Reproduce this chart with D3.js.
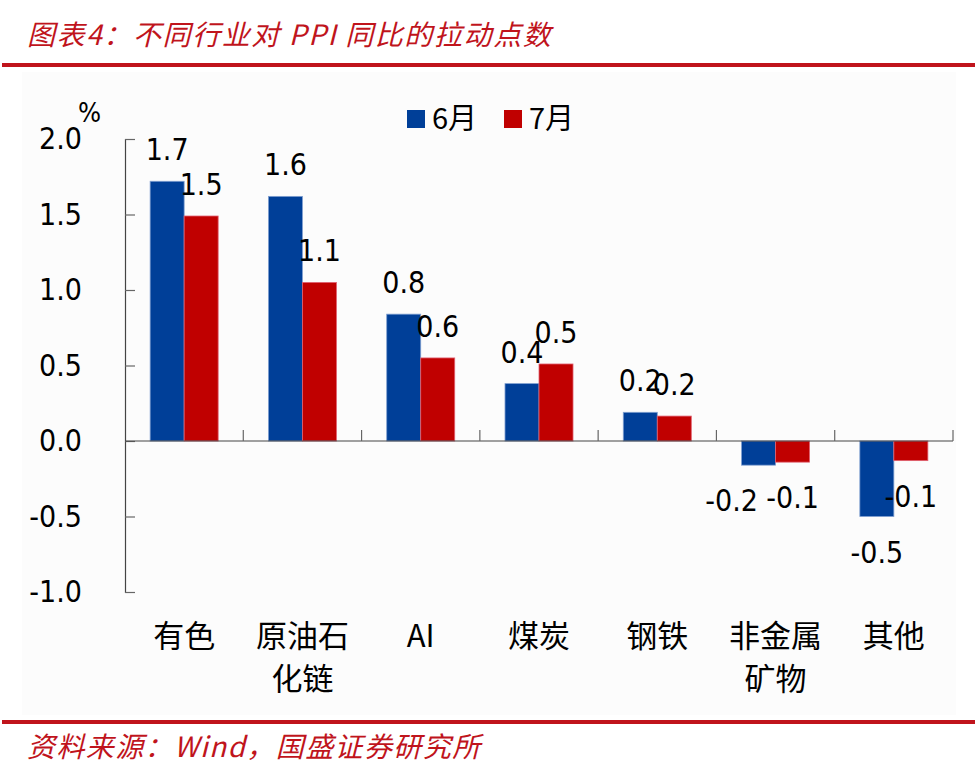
<!DOCTYPE html>
<html>
<head>
<meta charset="utf-8">
<script src="https://cdn.jsdelivr.net/npm/d3@7"></script>
<style>
  body { margin: 0; background: #fff; }
  svg { display: block; }
</style>
</head>
<body>
<svg id="chart" width="975" height="774"></svg>
<script>
// categories, two lines where the label wraps
const categories = ['有色', '原油石化链', 'AI', '煤炭', '钢铁', '非金属矿物', '其他'];
const categoryLines = [['有色'], ['原油石', '化链'], ['AI'], ['煤炭'], ['钢铁'], ['非金属', '矿物'], ['其他']];
const seriesNames = ['6月', '7月'];
const june = [1.72, 1.62, 0.84, 0.38, 0.19, -0.16, -0.50];
const july = [1.49, 1.05, 0.55, 0.51, 0.165, -0.14, -0.13];
const yTicks = [-1.0, -0.5, 0.0, 0.5, 1.0, 1.5, 2.0];

const colors = {'6月': '#003f98', '7月': '#c00000'};
const strokes = {'6月': '#7f9fd0', '7月': '#e06070'};
const red = '#c0141c';
const numFont = '"DejaVu Sans Condensed", "DejaVu Sans", sans-serif';
const cjkFont = '"Noto Sans CJK SC", sans-serif';

// plain hyphen for negatives, like the original
const fmt = d3.formatLocale({decimal: '.', thousands: ',', grouping: [3], currency: ['', ''], minus: '-'}).format('.1f');

const svg = d3.select('#chart');

// header + footer
svg.append('text')
    .attr('x', 27)
    .attr('y', 45)
    .attr('fill', red)
    .style('font-family', cjkFont)
    .style('font-style', 'italic')
    .style('font-size', '28px')
    .style('letter-spacing', '1.6px')
    .text('图表4：不同行业对 PPI 同比的拉动点数');
svg.append('rect')
    .attr('x', 2).attr('y', 63)
    .attr('width', 973).attr('height', 4)
    .attr('fill', red);
svg.append('rect') // faint chart panel
    .attr('x', 22).attr('y', 72)
    .attr('width', 934).attr('height', 643)
    .attr('fill', '#fcfcfc');
svg.append('rect')
    .attr('x', 2).attr('y', 720)
    .attr('width', 973).attr('height', 4)
    .attr('fill', red);
svg.append('text')
    .attr('x', 27)
    .attr('y', 757)
    .attr('fill', red)
    .style('font-family', cjkFont)
    .style('font-style', 'italic')
    .style('font-size', '28px')
    .style('letter-spacing', '1.4px')
    .text('资料来源：Wind，国盛证券研究所');

// scales
const y = d3.scaleLinear().domain([-1, 2]).range([592, 139]);
const x = d3.scaleBand()
    .domain(categories)
    .range([125, 953])
    .paddingInner(0.425)
    .paddingOuter(0.2125);
const xs = d3.scaleBand().domain(seriesNames).range([0, x.bandwidth()]);

// y axis, ticks pointing into the plot
const yAxis = d3.axisLeft(y)
    .tickValues(yTicks)
    .tickSizeInner(-10)
    .tickSizeOuter(-10)
    .tickPadding(43)
    .tickFormat(fmt);
const gy = svg.append('g')
    .attr('transform', `translate(${x.range()[0]},0)`)
    .call(yAxis);
gy.selectAll('path, line').attr('stroke', '#666').attr('stroke-width', 1.2);
gy.selectAll('text')
    .attr('fill', '#000')
    .style('font-family', numFont)
    .style('font-size', '30px');
gy.select('.domain').attr('stroke', '#444');

svg.append('text')
    .attr('x', 78)
    .attr('y', 122)
    .style('font-family', numFont)
    .style('font-size', '27px')
    .text('%');

// bars
const rows = categories.map((c, i) => ({cat: c, values: [june[i], july[i]]}));
const groups = svg.append('g').selectAll('g')
    .data(rows)
    .join('g')
    .attr('transform', (d) => `translate(${x(d.cat)},0)`);

groups.selectAll('rect')
    .data((d) => seriesNames.map((s, j) => ({cat: d.cat, key: s, value: d.values[j]})))
    .join('rect')
    .attr('x', (d) => xs(d.key))
    .attr('y', (d) => y(Math.max(0, d.value)))
    .attr('width', xs.bandwidth())
    .attr('height', (d) => Math.abs(y(d.value) - y(0)))
    .attr('fill', (d) => colors[d.key])
    .attr('stroke', (d) => strokes[d.key])
    .attr('stroke-width', 0.8);

// x axis line at zero with upward ticks at category boundaries
const x0 = x.range()[0];
svg.append('line')
    .attr('x1', x0).attr('x2', x.range()[1])
    .attr('y1', y(0)).attr('y2', y(0))
    .attr('stroke', '#444').attr('stroke-width', 1.2);
svg.append('g').selectAll('line')
    .data(d3.range(1, categories.length + 1))
    .join('line')
    .attr('x1', (i) => x0 + i * x.step())
    .attr('x2', (i) => x0 + i * x.step())
    .attr('y1', y(0))
    .attr('y2', y(0) - 11)
    .attr('stroke', '#666').attr('stroke-width', 1.2);

// value labels; one label was nudged left in the original to avoid overlap
const nudge = {'非金属矿物|6月': -27};
groups.selectAll('text.val')
    .data((d) => seriesNames.map((s, j) => ({cat: d.cat, key: s, value: d.values[j]})))
    .join('text')
    .attr('class', 'val')
    .attr('x', (d) => xs(d.key) + xs.bandwidth() / 2 + (nudge[d.cat + '|' + d.key] || 0))
    .attr('y', (d) => d.value >= 0 ? y(d.value) - 21 : y(d.value) + 46)
    .attr('text-anchor', 'middle')
    .style('font-family', numFont)
    .style('font-size', '30px')
    .text((d) => fmt(d.value));

// category labels
const catLabels = svg.append('g').selectAll('text')
    .data(categories.map((c, i) => ({cat: c, lines: categoryLines[i]})))
    .join('text')
    .attr('text-anchor', 'middle')
    .attr('x', (d) => x(d.cat) + x.bandwidth() / 2)
    .attr('y', 647)
    .style('font-family', cjkFont)
    .style('font-size', '31px');
catLabels.selectAll('tspan')
    .data((d) => d.lines.map((l, k) => ({l, k, cx: x(d.cat) + x.bandwidth() / 2})))
    .join('tspan')
    .attr('x', (d) => d.cx)
    .attr('dy', (d) => d.k === 0 ? 0 : 43)
    .text((d) => d.l);

// legend
const legend = svg.append('g').selectAll('g')
    .data(seriesNames)
    .join('g')
    .attr('transform', (d, i) => `translate(${407 + i * 97},110)`);
legend.append('rect')
    .attr('width', 18).attr('height', 18)
    .attr('fill', (d) => colors[d]);
legend.append('text')
    .attr('x', 25)
    .attr('y', 19)
    .style('font-family', cjkFont)
    .style('font-size', '29px')
    .text((d) => d);
</script>
</body>
</html>
